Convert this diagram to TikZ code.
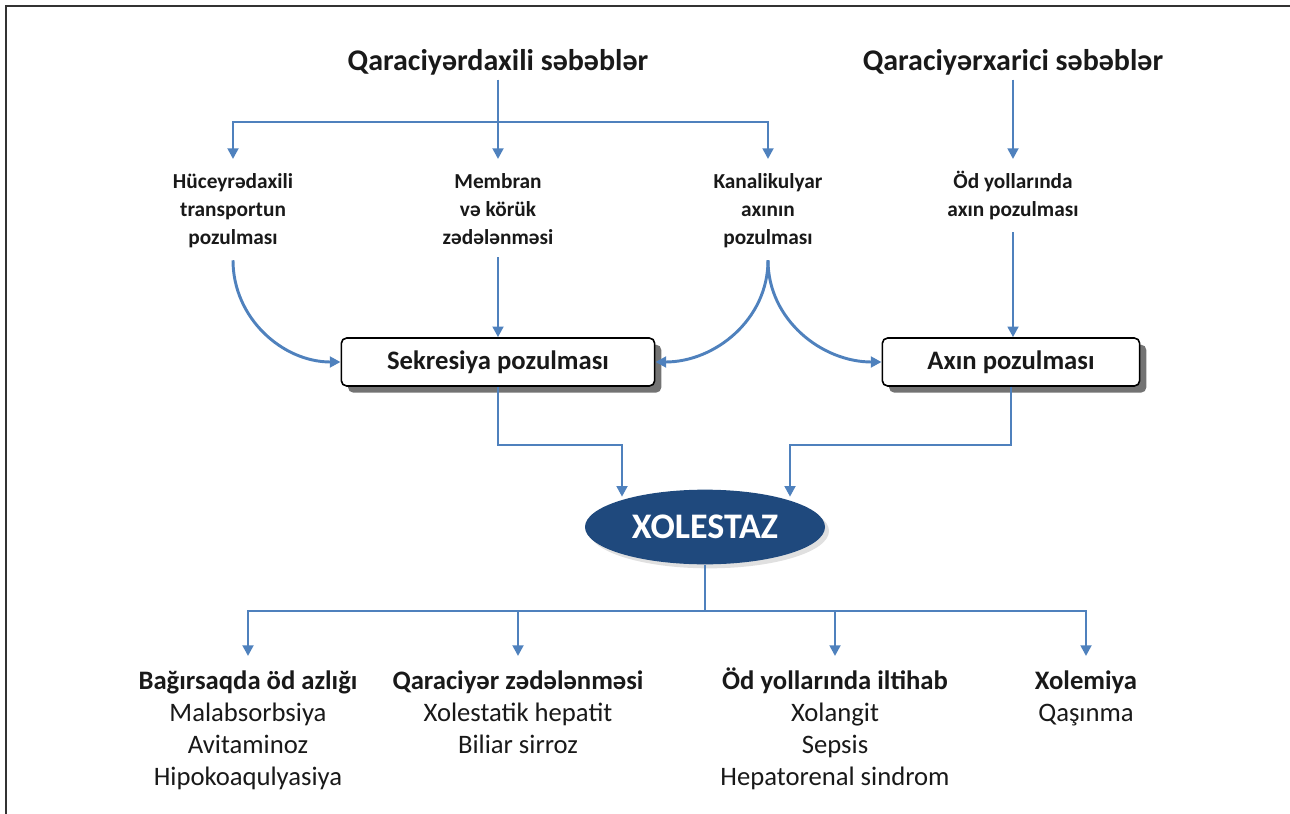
\documentclass[tikz,border=0pt]{standalone}
\usepackage{fontspec}
\setmainfont{Carlito}
\usetikzlibrary{arrows.meta,shapes.geometric,shadows}
\definecolor{lineblue}{RGB}{79,129,189}
\definecolor{navyfill}{RGB}{31,73,125}
\definecolor{txt}{RGB}{25,25,25}
\newcommand{\acc}{\vphantom{Ö}}
\begin{document}
\begin{tikzpicture}[x=0.75pt,y=-0.75pt,
  line/.style={draw=lineblue,line width=2.2pt},
  arr/.style={line,-{Triangle[length=8pt,width=8pt]}},
  head/.style={font=\fontsize{22.5}{26}\selectfont\bfseries,text=txt},
  cause/.style={font=\fontsize{16}{21}\selectfont\bfseries,align=center,text=txt,anchor=north,inner ysep=9pt},
  box/.style={draw=black,line width=1.2pt,rounded corners=4pt,fill=white,minimum height=36pt,
    font=\fontsize{20}{24}\selectfont\bfseries,text=txt,
    drop shadow={shadow xshift=5pt,shadow yshift=-5pt,fill=black!55,opacity=1}},
  ell/.style={ellipse,fill=navyfill,text=white,minimum width=180pt,minimum height=56pt,inner sep=0pt,
    font=\fontsize{27}{32}\selectfont\bfseries,drop shadow={shadow xshift=3pt,shadow yshift=-3pt,fill=black!12,opacity=1}},
  res/.style={font=\fontsize{20}{24}\selectfont,align=center,text=txt,anchor=north,inner ysep=9pt}]
\useasboundingbox (0,0) rectangle (1290,814);
\draw[line width=1.5pt,black!80] (1290,6) -- (6,6) -- (6,814);

\node[head] (intra) at (498,62) {Qaraciyərdaxili səbəblər};
\node[head] (extra) at (1013,62) {Qaraciyərxarici səbəblər};
\node[cause] (transp) at (233,159) {\acc Hüceyrədaxili\\transportun\\pozulması};
\node[cause] (membr) at (498,159) {\acc Membran\\və körük\\zədələnməsi};
\node[cause] (kanal) at (768,159) {\acc Kanalikulyar\\axının\\pozulması};
\node[cause] (odyol) at (1013,159) {\acc Öd yollarında\\axın pozulması};
\node[box,minimum width=235pt] (sekr) at (498,362) {Sekresiya pozulması};
\node[box,minimum width=193pt] (axin) at (1011,362) {Axın pozulması};
\node[ell] (xol) at (705,527) {XOLESTAZ};
\node[res] (r1) at (248,656) {\acc\textbf{Bağırsaqda öd azlığı}\\Malabsorbsiya\\Avitaminoz\\Hipokoaqulyasiya};
\node[res] (r2) at (518,656) {\acc\textbf{Qaraciyər zədələnməsi}\\Xolestatik hepatit\\Biliar sirroz};
\node[res] (r3) at (835,656) {\acc\textbf{Öd yollarında iltihab}\\Xolangit\\Sepsis\\Hepatorenal sindrom};
\node[res] (r4) at (1086,656) {\acc\textbf{Xolemiya}\\Qaşınma};

\coordinate (tj) at (498,122);
\coordinate (lj) at (622,445);
\coordinate (rj) at (790,445);
\coordinate (bj) at (705,611);

\draw[line] (intra.south) -- (tj);
\foreach \n in {transp,membr,kanal}
  \draw[arr] (tj) -| (\n.north);
\draw[arr] (extra) -- (odyol);
\draw[arr] (transp.south) to[out=-90,in=180] (sekr.west);
\draw[arr] (membr.south) -- (sekr.north);
\draw[arr] (kanal.south) to[out=-90,in=0] (sekr.east);
\draw[arr] (kanal.south) to[out=-90,in=180] (axin.west);
\draw[arr] (odyol.south) -- (odyol.south |- axin.north);
\draw[arr] (sekr.south) |- (lj) -- (lj |- xol.157);
\draw[arr] (axin.south) |- (rj) -- (rj |- xol.23);
\draw[line] (xol.south) -- (bj);
\foreach \n in {r1,r2,r3,r4}
  \draw[arr] (bj) -| (\n.north);
\end{tikzpicture}
\end{document}
